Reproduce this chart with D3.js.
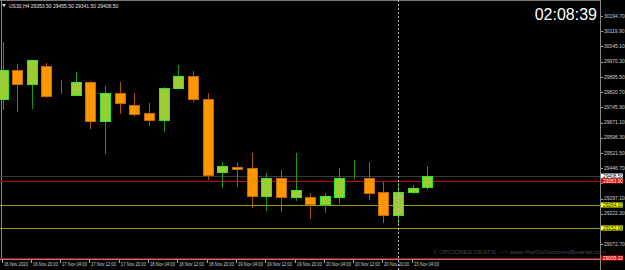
<!DOCTYPE html>
<html>
<head>
<meta charset="utf-8">
<script src="https://cdn.jsdelivr.net/npm/d3@7"></script>
<style>
  html, body { margin: 0; padding: 0; background: #000; }
  svg { display: block; }
  text { font-family: Arial, "Liberation Sans", sans-serif; }
</style>
</head>
<body>
<svg id="vis"></svg>
<script>
// US30 H4 candles
var opens  = [29786.7, 29929.2, 29860.4, 29948.9, 29810.5, 29806.3, 29870.2, 29678.5, 29816.2, 29757.2,
              29717.8, 29683.4, 29840.7, 29899.7, 29786.7, 29427.8, 29452.4, 29447.5, 29309.8, 29398.3,
              29304.9, 29304.9, 29270.5, 29304.9, 29397.5, 29398.3, 29329.5, 29216.4, 29329.5, 29353.5];
var highs  = [30066.9, 29958.7, 29980.0, 29963.6, 29880.1, 29919.4, 29875.2, 29850.6, 29870.2, 29816.2,
              29767.0, 29845.7, 29953.8, 29924.3, 29816.2, 29477.0, 29472.0, 29521.2, 29422.9, 29437.6,
              29521.2, 29324.6, 29324.6, 29447.5, 29486.8, 29477.0, 29378.6, 29373.7, 29363.9, 29455.5];
var lows   = [29732.6, 29722.8, 29737.5, 29791.6, 29809.0, 29805.0, 29639.2, 29516.3, 29712.9, 29703.1,
              29653.9, 29624.4, 29840.0, 29771.9, 29388.5, 29349.1, 29354.1, 29250.8, 29236.1, 29231.2,
              29285.2, 29196.7, 29226.2, 29270.5, 29393.4, 29290.2, 29177.1, 29162.3, 29319.7, 29341.5];
var closes = [29929.2, 29860.4, 29978.4, 29801.4, 29811.3, 29870.2, 29678.5, 29816.2, 29767.0, 29712.9,
              29683.4, 29840.7, 29899.7, 29786.7, 29413.1, 29457.3, 29442.6, 29309.8, 29398.3, 29304.9,
              29339.3, 29270.5, 29309.8, 29398.3, 29398.3, 29324.6, 29216.4, 29329.5, 29349.1, 29408.5];

// time labels sit on every second candle
var timeIdx    = [0, 2, 4, 6, 8, 10, 12, 14, 16, 18, 20, 22, 24, 26, 28];
var timeLabels = ["16 Nov 2020", "16 Nov 20:00", "17 Nov 04:00", "17 Nov 12:00", "17 Nov 20:00",
                  "18 Nov 04:00", "18 Nov 12:00", "18 Nov 20:00", "19 Nov 04:00", "19 Nov 12:00",
                  "19 Nov 20:00", "20 Nov 04:00", "20 Nov 12:00", "20 Nov 20:00", "23 Nov 04:00"];

var priceTicks = [30194.70, 30119.90, 30045.10, 29970.30, 29895.50, 29820.70, 29745.90, 29671.10,
                  29596.30, 29521.50, 29446.70, 29371.90, 29297.10, 29222.30, 29147.50, 29072.70];

// horizontal levels: bid, red, two yellow, bottom red
var levelValues = [29408.50, 29383.90, 29264.03, 29152.06, 29005.10];
var levelKinds  = ["bid", "red", "yellow", "yellow", "red"];

var symbolName = "US30,H4";
var clockText = "02:08:39";
var watermark = "\u00A9 OPCIONES GRATIS ---> www.VivirDeOpcionesBinarias.com";

var sizes = { width: 625, height: 270, plotRight: 600, plotBottom: 259 };

var svg = d3.select("#vis")
    .attr("width", sizes.width)
    .attr("height", sizes.height);

svg.append("rect")
    .attr("width", sizes.width)
    .attr("height", sizes.height)
    .attr("fill", "#000");

// scales
var x = d3.scaleLinear()
    .domain([0, 29])
    .range([2.5, 427.35]);

var y = d3.scaleLinear()
    .domain([29005, 30194.7])
    .range([258, 16]);

var candles = opens.map(function(o, i) {
    return { i: i, o: o, h: highs[i], l: lows[i], c: closes[i], bull: closes[i] >= o };
});

// frame
var frame = svg.append("g").attr("shape-rendering", "crispEdges");
frame.append("line").attr("x1", 0).attr("x2", sizes.plotRight).attr("y1", 0.5).attr("y2", 0.5).attr("stroke", "#777");
frame.append("line").attr("x1", 1.5).attr("x2", 1.5).attr("y1", 0).attr("y2", sizes.plotBottom).attr("stroke", "#888");
frame.append("line").attr("x1", sizes.plotRight + 0.5).attr("x2", sizes.plotRight + 0.5).attr("y1", 0).attr("y2", sizes.height).attr("stroke", "#888");
frame.append("line").attr("x1", 0).attr("x2", sizes.plotRight).attr("y1", sizes.plotBottom + 0.5).attr("y2", sizes.plotBottom + 0.5).attr("stroke", "#888");

// level lines
var levelColor = { bid: "#3a3a3a", red: "#c80000", yellow: "#9a9a00" };
svg.append("g")
    .attr("shape-rendering", "crispEdges")
    .selectAll("line")
    .data(levelValues)
    .enter()
    .append("line")
    .attr("x1", 0)
    .attr("x2", sizes.plotRight)
    .attr("y1", d => Math.round(y(d)) + 0.5)
    .attr("y2", d => Math.round(y(d)) + 0.5)
    .attr("stroke", (d, i) => levelColor[levelKinds[i]]);

// watermark
svg.append("text")
    .attr("x", 433)
    .attr("y", 254)
    .attr("font-size", 6.2)
    .attr("fill", "#484848")
    .text(watermark);

// wicks
var bodyW = 11;
var candleG = svg.append("g").attr("shape-rendering", "crispEdges");

candleG.selectAll(".wick")
    .data(candles)
    .enter()
    .append("line")
    .attr("class", "wick")
    .attr("x1", d => Math.round(x(d.i)) + 0.5)
    .attr("x2", d => Math.round(x(d.i)) + 0.5)
    .attr("y1", d => y(d.h))
    .attr("y2", d => y(d.l))
    .attr("stroke", d => d.bull ? "#169a16" : "#a85600");

// bodies
candleG.selectAll(".body")
    .data(candles)
    .enter()
    .append("rect")
    .attr("class", "body")
    .attr("x", d => Math.round(x(d.i)) - 5 + 0.5)
    .attr("y", d => Math.round(y(Math.max(d.o, d.c))) + 0.5)
    .attr("width", bodyW - 1)
    .attr("height", d => Math.max(0, Math.round(y(Math.min(d.o, d.c))) - Math.round(y(Math.max(d.o, d.c)))))
    .attr("fill", d => d.bull ? "#9acd32" : "#ff9500")
    .attr("stroke", d => d.bull ? "#2ee82e" : "#c46a00");

// dotted vertical line
svg.append("line")
    .attr("x1", Math.round(x(27)) + 0.5)
    .attr("x2", Math.round(x(27)) + 0.5)
    .attr("y1", 0)
    .attr("y2", sizes.height)
    .attr("stroke", "#bbb")
    .attr("stroke-dasharray", "2,2")
    .attr("shape-rendering", "crispEdges");

// price axis, labels hidden under the level boxes are skipped
var boxYs = levelValues.map(v => y(v));
var visibleTicks = priceTicks.filter(t => boxYs.every(b => Math.abs(y(t) - b) > 5));

var axisG = svg.append("g");
axisG.selectAll("line")
    .data(priceTicks)
    .enter()
    .append("line")
    .attr("x1", sizes.plotRight + 1)
    .attr("x2", sizes.plotRight + 3)
    .attr("y1", d => Math.round(y(d)) + 0.5)
    .attr("y2", d => Math.round(y(d)) + 0.5)
    .attr("stroke", "#aaa");

axisG.selectAll("text")
    .data(visibleTicks)
    .enter()
    .append("text")
    .attr("x", 604)
    .attr("y", d => y(d) + 1.7)
    .attr("font-size", 5)
    .attr("fill", "#d0d0d0")
    .text(d => d.toFixed(2));

// level boxes on the price axis
var boxFill = { bid: "#ffffff", red: "#e00000", yellow: "#ffff00" };
var boxText = { bid: "#000", red: "#fff", yellow: "#000" };
var boxes = svg.append("g")
    .selectAll("g")
    .data(levelValues)
    .enter()
    .append("g")
    .attr("transform", d => "translate(601," + Math.round(y(d)) + ")");

boxes.append("rect")
    .attr("x", 0)
    .attr("y", -2.5)
    .attr("width", 22)
    .attr("height", 5)
    .attr("fill", (d, i) => boxFill[levelKinds[i]]);

boxes.append("text")
    .attr("x", 2)
    .attr("y", 1.7)
    .attr("font-size", 4.8)
    .attr("fill", (d, i) => boxText[levelKinds[i]])
    .text(d => d.toFixed(2));

// time axis
var timeG = svg.append("g");
timeG.selectAll("line")
    .data(timeIdx)
    .enter()
    .append("line")
    .attr("x1", d => Math.round(x(d)) - 0.5)
    .attr("x2", d => Math.round(x(d)) - 0.5)
    .attr("y1", sizes.plotBottom + 1)
    .attr("y2", sizes.plotBottom + 4)
    .attr("stroke", "#aaa");

timeG.selectAll("text")
    .data(timeIdx)
    .enter()
    .append("text")
    .attr("x", d => Math.max(2, Math.round(x(d)) + 1))
    .attr("y", 266)
    .attr("font-size", 5)
    .attr("textLength", (d, i) => i === 0 ? 24 : 25)
    .attr("lengthAdjust", "spacingAndGlyphs")
    .attr("fill", "#d0d0d0")
    .text((d, i) => timeLabels[i]);

// header with the last candle's OHLC
var last = candles[candles.length - 1];
svg.append("path")
    .attr("d", "M2,4 L6,4 L4,7 Z")
    .attr("fill", "#ddd");
svg.append("text")
    .attr("x", 9)
    .attr("y", 7.5)
    .attr("font-size", 5)
    .attr("fill", "#e0e0e0")
    .text(symbolName + "  " + [last.o, last.h, last.l, last.c].map(v => v.toFixed(2)).join(" "));

// clock
svg.append("text")
    .attr("x", 597)
    .attr("y", 20)
    .attr("text-anchor", "end")
    .attr("font-size", 16)
    .attr("fill", "#fff")
    .text(clockText);
</script>
</body>
</html>
